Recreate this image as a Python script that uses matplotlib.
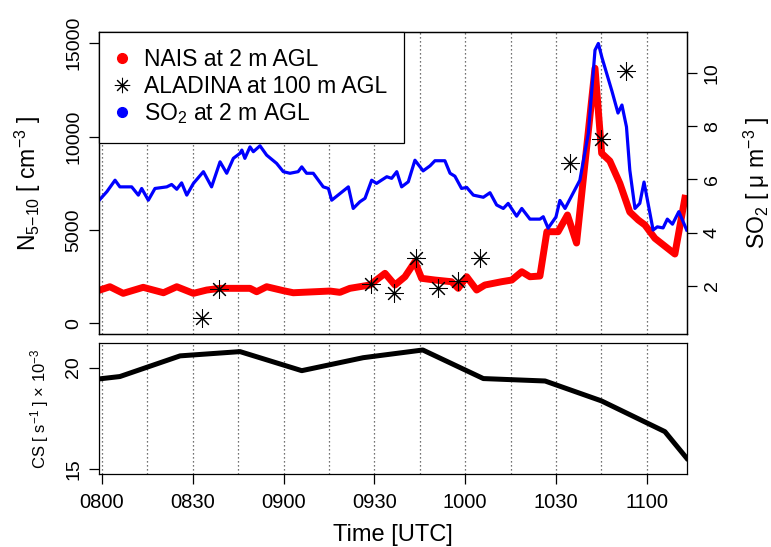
import matplotlib
matplotlib.use("Agg")
import matplotlib.pyplot as plt
from matplotlib.lines import Line2D

plt.rcParams['font.family'] = ['Liberation Sans', 'DejaVu Sans']
plt.rcParams['mathtext.fontset'] = 'custom'
plt.rcParams['mathtext.rm'] = 'Liberation Sans'
plt.rcParams['mathtext.it'] = 'Liberation Sans:italic'
plt.rcParams['axes.unicode_minus'] = True

# time axis: minutes after 08:00 UTC
nais_t = [-0.7, 2.6, 7.0, 13.6, 20.3, 24.7, 30.2, 34.6, 39.0, 48.9, 51.1, 54.4, 60.0,
          63.2, 75.3, 78.6, 81.9, 88.5, 93.5, 96.8, 100.1, 103.4, 105.6, 110.0, 115.5,
          117.7, 120.5, 123.8, 126.5, 132.0, 135.4, 138.7, 141.4, 144.7, 147.0, 150.7,
          153.8, 156.8, 162.9, 165.1, 167.8, 171.1, 174.4, 177.2, 179.4, 182.7, 189.3, 192.6]
nais_n = [1784, 1961, 1607, 1929, 1639, 1961, 1607, 1784, 1875, 1875, 1693, 1961, 1746,
          1639, 1730, 1661, 1875, 2052, 2679, 2052, 2496, 3300, 2411, 2320, 2229,
          1875, 2496, 1784, 2052, 2229, 2320, 2764, 2496, 2534, 4907, 4907,
          5802, 4302, 13660, 9107, 8694, 7500, 5962, 5534, 5266, 4553, 3712, 6696]

so2_t = [-0.7, 1.6, 4.3, 5.9, 9.8, 12.0, 13.1, 15.3, 17.5, 21.4, 23.0, 24.7, 26.3, 28.0,
         30.2, 33.5, 36.2, 39.0, 41.2, 43.4, 45.6, 46.2, 47.2, 48.9, 50.0, 52.2, 54.4,
         57.7, 59.9, 62.1, 64.8, 66.0, 67.6, 69.8, 73.1, 74.8, 75.9, 81.4, 83.0, 85.2,
         86.9, 89.1, 90.7, 94.1, 95.7, 97.4, 99.0, 101.2, 103.4, 106.1, 108.4, 110.0,
         113.3, 115.0, 116.6, 118.8, 120.5, 122.7, 126.0, 128.2, 130.4, 132.6, 134.2,
         137.0, 138.7, 141.4, 144.7, 145.8, 147.4, 150.0, 151.3, 153.0, 157.9, 160.7,
         162.9, 164.0, 165.2, 168.5, 170.5, 171.8, 173.3, 174.4, 176.1, 177.7, 179.1,
         182.1, 183.5, 185.4, 186.8, 188.5, 190.6, 193.2]
so2_c = [5.25, 5.54, 5.97, 5.72, 5.72, 5.41, 5.66, 5.22, 5.66, 5.72, 5.81, 5.63, 5.87, 5.41,
         5.85, 6.29, 5.72, 6.66, 6.23, 6.79, 6.98, 7.10, 6.79, 7.22, 7.04, 7.26, 6.91,
         6.60, 6.29, 6.23, 6.29, 6.47, 6.23, 6.23, 5.72, 5.66, 5.22, 5.72, 4.91, 5.16,
         5.29, 5.97, 5.85, 6.10, 6.04, 6.29, 5.72, 5.91, 6.72, 6.32, 6.51, 6.70,
         6.70, 6.23, 6.12, 5.66, 5.70, 5.41, 5.33, 5.50, 5.04, 4.91, 5.10,
         4.62, 4.91, 4.51, 4.51, 4.60, 4.17, 4.59, 5.21, 4.91, 5.97, 7.73,
         10.85, 11.10, 10.57, 9.31, 8.49, 8.79, 7.97, 6.35, 4.91, 5.10, 5.90,
         4.10, 4.22, 4.18, 4.51, 4.32, 4.79, 4.10]

aladina_t = [32.9, 38.8, 88.9, 96.6, 103.7, 110.9, 117.5, 124.9, 154.8, 164.8, 173.0]
aladina_n = [268, 1821, 2089, 1639, 3482, 1907, 2282, 3482, 8609, 9873, 13532]

cs_t = [-1.1, 5.9, 25.8, 45.6, 66.0, 86.3, 106.0, 126.0, 146.4, 165.0, 186.0, 193.2]
cs_v = [19.44, 19.56, 20.58, 20.79, 19.85, 20.49, 20.87, 19.46, 19.34, 18.36, 16.84, 15.53]

grid_t = [0, 15, 30, 45, 60, 75, 90, 105, 120, 135, 150, 165, 180]
tick_t = [0, 30, 60, 90, 120, 150, 180]
tick_lab = ['0800', '0830', '0900', '0930', '1000', '1030', '1100']

W, H = 771, 547
fig = plt.figure(figsize=(W / 100, H / 100), dpi=100)
ax1 = fig.add_axes([99 / W, 1 - 334 / H, 588 / W, 302 / H])
ax3 = fig.add_axes([99 / W, 1 - 474 / H, 588 / W, 131.3 / H])
ax2 = ax1.twinx()

xlim = (-1.0, 193.3)
for ax in (ax1, ax3):
    for t in grid_t:
        ax.axvline(t, color='#444444', lw=0.9, ls=(0, (1, 2.2)), zorder=0)

ax1.plot(nais_t, nais_n, color='#ff0000', lw=5, solid_joinstyle='round', zorder=2)
ax1.plot(aladina_t, aladina_n, ls='none', marker=(8, 2, 0), ms=13, mew=0.75,
         color='black', zorder=3)
ax2.plot(so2_t, so2_c, color='#0000ff', lw=2.3, solid_joinstyle='round')

ax1.set_xlim(*xlim)
ax1.set_ylim(-570, 15600)
ax2.set_ylim(0.2, 11.53)
ax1.set_yticks([0, 5000, 10000, 15000])
ax2.set_yticks([2, 4, 6, 8, 10])
ax1.tick_params(axis='x', bottom=False, labelbottom=False)
ax1.tick_params(axis='y', length=7, width=0.9, pad=5, labelsize=14, labelrotation=90)
ax2.tick_params(axis='y', length=7, width=0.9, pad=5, labelsize=14, labelrotation=90)
for lab in ax1.get_yticklabels() + ax2.get_yticklabels():
    lab.set_va('center')

ax1.set_ylabel('N$_{\\mathregular{5{-}10}}$ [ cm$^{-3}$ ]', fontsize=16.5, va='center')
ax1.yaxis.set_label_coords(-0.121, 0.5)
ax2.set_ylabel('SO$_2$ [ μ m$^{-3}$ ]', fontsize=16.5, rotation=90, va='center')
ax2.yaxis.set_label_coords(1.119, 0.5)

handles = [
    Line2D([], [], ls='none', marker='o', ms=7, color='#ff0000'),
    Line2D([], [], ls='none', marker=(8, 2, 0), ms=11, mew=0.75, color='black'),
    Line2D([], [], ls='none', marker='o', ms=7, color='#0000ff'),
]
labels = ['NAIS at 2 m AGL', 'ALADINA at 100 m AGL', 'SO$_2$ at 2 m AGL']
leg = ax2.legend(handles, labels, loc='upper left', bbox_to_anchor=(0, 1),
                 borderaxespad=0, fontsize=16.5, fancybox=False, framealpha=1,
                 edgecolor='black', borderpad=0.72, handlelength=0.6,
                 handletextpad=0.65, labelspacing=0.15)
leg.get_frame().set_linewidth(0.9)

ax3.plot(cs_t, cs_v, color='black', lw=3.6, solid_joinstyle='round')
ax3.set_xlim(*xlim)
ax3.set_ylim(14.75, 21.23)
ax3.set_yticks([15, 20])
ax3.set_xticks(tick_t)
ax3.set_xticklabels(tick_lab)
ax3.tick_params(axis='x', length=7, width=0.9, pad=7, labelsize=14.5)
ax3.tick_params(axis='y', length=7, width=0.9, pad=5, labelsize=14, labelrotation=90)
for lab in ax3.get_yticklabels():
    lab.set_va('center')
ax3.set_ylabel('CS [ s$^{-1}$ ] × 10$^{-3}$', fontsize=12, va='center')
ax3.yaxis.set_label_coords(-0.1003, 0.5)
ax3.set_xlabel('Time [UTC]', fontsize=17, va='center')
ax3.xaxis.set_label_coords(0.5, -0.465)

for ax in (ax1, ax2, ax3):
    for s in ax.spines.values():
        s.set_linewidth(0.9)

fig.savefig('out.png', dpi=100)
